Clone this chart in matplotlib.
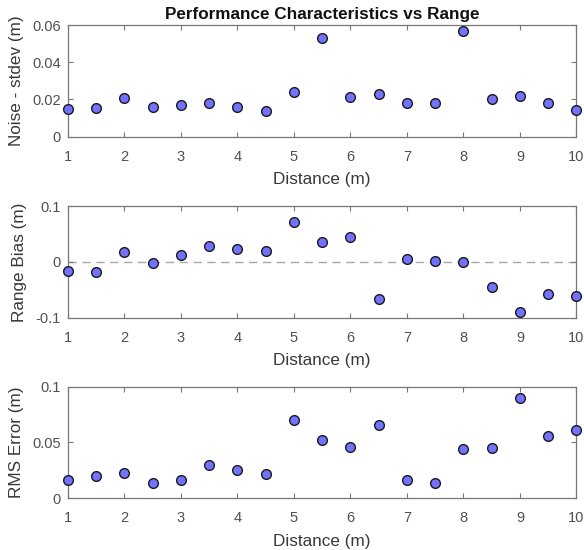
import numpy as np
import matplotlib
matplotlib.use("Agg")
import matplotlib.pyplot as plt

plt.rcParams['font.family'] = ['Liberation Sans', 'DejaVu Sans']

distance = [1, 1.5, 2, 2.5, 3, 3.5, 4, 4.5, 5, 5.5, 6, 6.5, 7, 7.5, 8, 8.5, 9, 9.5, 10]

noise_std = [0.0148, 0.0154, 0.0208, 0.0159, 0.0170, 0.0179, 0.0161, 0.0136, 0.0240, 0.0530,
             0.0215, 0.0228, 0.0179, 0.0179, 0.0568, 0.0204, 0.0217, 0.0179, 0.0145]

range_bias = [-0.0155, -0.0190, 0.0179, -0.0018, 0.0119, 0.0280, 0.0238, 0.0196, 0.0708, 0.0357,
              0.0440, -0.0660, 0.0054, 0.0018, -0.0006, -0.0450, -0.0899, -0.0577, -0.0607]

rms_error = [0.0166, 0.0198, 0.0231, 0.0136, 0.0160, 0.0299, 0.0251, 0.0219, 0.0704, 0.0524,
             0.0462, 0.0654, 0.0160, 0.0139, 0.0441, 0.0450, 0.0896, 0.0562, 0.0612]

panels = [
    (noise_std, 'Noise - stdev (m)', (0, 0.06), [0, 0.02, 0.04, 0.06], ['0', '0.02', '0.04', '0.06']),
    (range_bias, 'Range Bias (m)', (-0.1, 0.1), [-0.1, 0, 0.1], ['-0.1', '0', '0.1']),
    (rms_error, 'RMS Error (m)', (0, 0.1), [0, 0.05, 0.1], ['0', '0.05', '0.1']),
]

fig = plt.figure(figsize=(5.84, 5.5), dpi=100)
left, width = 0.1164, 0.8707
bottoms = [0.7515, 0.4224, 0.094]
height = 0.203

axc = '#777777'
txtc = '#505050'

for i, (vals, ylab, ylim, yt, ytl) in enumerate(panels):
    ax = fig.add_axes([left, bottoms[i], width, height])
    if i == 1:
        ax.axhline(0, color='#a8a8a8', linestyle=(0, (6, 4)), linewidth=1.0, zorder=1)
    ax.plot(distance, vals, 'o', markersize=7, markerfacecolor='#7272ff',
            markeredgecolor='#1a1a1a', markeredgewidth=1.0, clip_on=False, zorder=3)
    ax.set_xlim(1, 10)
    ax.set_ylim(*ylim)
    ax.set_xticks(range(1, 11))
    ax.set_yticks(yt)
    ax.set_yticklabels(ytl)
    ax.tick_params(direction='in', top=True, right=True, length=3.5, width=0.8,
                   color=axc, labelcolor=txtc, labelsize=10.5)
    ax.tick_params(axis='x', pad=9.5)
    ax.tick_params(axis='y', pad=5)
    for s in ax.spines.values():
        s.set_color(axc)
        s.set_linewidth(0.9)
    ax.set_xlabel('Distance (m)', fontsize=12.3, color='#383838', labelpad=6)
    ax.set_ylabel(ylab, fontsize=12.3, color='#383838', labelpad=6)
    if i == 0:
        ax.set_title('Performance Characteristics vs Range', fontsize=12.3,
                     fontweight='bold', color='#111111', pad=4)

fig.savefig('out.png', dpi=100)
